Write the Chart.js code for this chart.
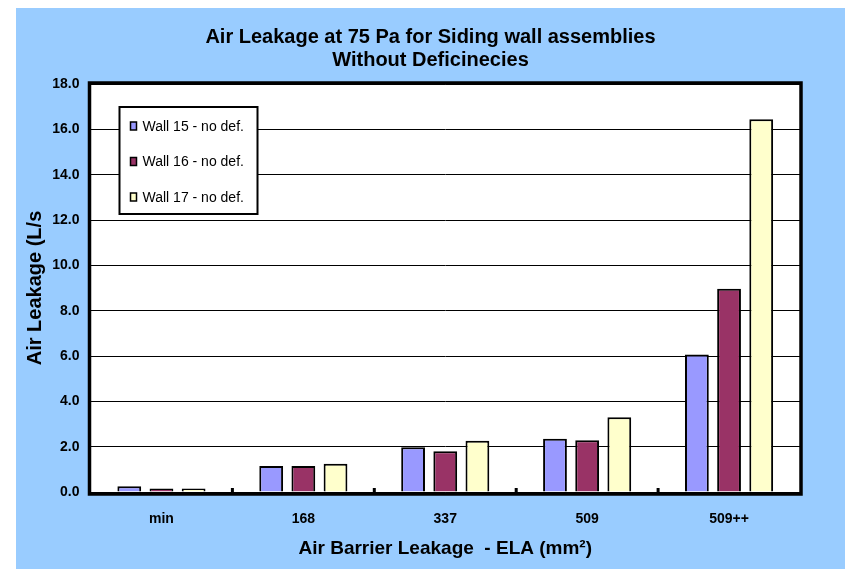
<!DOCTYPE html>
<html>
<head>
<meta charset="utf-8">
<script src="https://cdn.jsdelivr.net/npm/chart.js@4/dist/chart.umd.min.js"></script>
<style>
  html, body { margin: 0; padding: 0; background: #fff; }
  #wrap { position: absolute; left: 16px; top: 8px; width: 829px; height: 561px; background: #99ccff; }
</style>
</head>
<body>
<div id="wrap"><canvas id="leakChart" width="829" height="561"></canvas></div>
<script>
// Air leakage at 75 Pa, siding walls without deficiencies
const categories = ['min', '168', '337', '509', '509++'];
const seriesNames = ['Wall 15 - no def.', 'Wall 16 - no def.', 'Wall 17 - no def.'];
const wall15 = [0.25, 1.15, 1.97, 2.35, 6.07];
const wall16 = [0.15, 1.15, 1.8, 2.28, 8.97];
const wall17 = [0.15, 1.25, 2.26, 3.3, 16.45];
const seriesColors = ['#9999ff', '#993366', '#ffffcc'];
const yTicks = [0, 2, 4, 6, 8, 10, 12, 14, 16, 18];

const FONT = 'Arial, "Liberation Sans", Helvetica, sans-serif';

// white plot area + heavy frame, little marks between groups
const plotFrame = {
  id: 'plotFrame',
  beforeDraw(chart) {
    const {ctx, chartArea: a} = chart;
    ctx.save();
    ctx.fillStyle = '#fff';
    ctx.fillRect(a.left, a.top, a.right - a.left, a.bottom - a.top);
    ctx.restore();
  },
  beforeDatasetsDraw(chart) {
    const {ctx, chartArea: a, scales: {x}} = chart;
    ctx.save();
    ctx.strokeStyle = '#000';
    ctx.lineWidth = 3.5;
    ctx.strokeRect(a.left - 1, a.top - 1, a.right - a.left + 2, a.bottom - a.top + 3);
    ctx.fillStyle = '#000';
    for (let i = 1; i < categories.length; i++) {
      const px = (x.getPixelForValue(i - 1) + x.getPixelForValue(i)) / 2;
      ctx.fillRect(px - 1.5, a.bottom - 4, 3, 4);
    }
    ctx.restore();
  }
};

// boxed legend sitting inside the plot, top left
const boxLegend = {
  id: 'boxLegend',
  afterDatasetsDraw(chart) {
    const {ctx, chartArea: a} = chart;
    const bx = a.left + 29, by = a.top + 23, bw = 138, bh = 107;
    ctx.save();
    ctx.fillStyle = '#fff';
    ctx.fillRect(bx, by, bw, bh);
    ctx.strokeStyle = '#000';
    ctx.lineWidth = 2;
    ctx.strokeRect(bx, by, bw, bh);
    ctx.font = '14px ' + FONT;
    ctx.textBaseline = 'middle';
    chart.data.datasets.forEach((ds, i) => {
      const cy = by + 19 + i * 35.5;
      ctx.fillStyle = ds.backgroundColor;
      ctx.fillRect(bx + 11, cy - 4, 6, 8);
      ctx.lineWidth = 1.5;
      ctx.strokeRect(bx + 11, cy - 4, 6, 8);
      ctx.fillStyle = '#000';
      ctx.fillText(ds.label, bx + 23, cy + 1);
    });
    ctx.restore();
  }
};

const allSeries = [wall15, wall16, wall17];

new Chart(document.getElementById('leakChart').getContext('2d'), {
  type: 'bar',
  data: {
    labels: categories,
    datasets: allSeries.map((vals, i) => ({
      label: seriesNames[i],
      data: vals,
      backgroundColor: seriesColors[i],
      borderColor: '#000',
      borderWidth: 2,
      borderSkipped: 'bottom',
      categoryPercentage: 0.68,
      barPercentage: 0.74
    }))
  },
  options: {
    responsive: false,
    animation: false,
    devicePixelRatio: 1,
    layout: { padding: 0 },
    plugins: {
      legend: { display: false },
      tooltip: { enabled: false },
      title: {
        display: true,
        text: ['Air Leakage at 75 Pa for Siding wall assemblies', 'Without Deficinecies'],
        color: '#000',
        font: { family: FONT, size: 20, weight: 'bold', lineHeight: 1.15 },
        padding: { top: 18, bottom: 12 }
      }
    },
    scales: {
      x: {
        grid: { display: false },
        border: { display: false },
        ticks: { color: '#000', padding: 11, font: { family: FONT, size: 14, weight: 'bold' } },
        title: {
          display: true,
          text: 'Air Barrier Leakage  - ELA (mm²)',
          color: '#000',
          font: { family: FONT, size: 19, weight: 'bold' },
          padding: { top: 0, bottom: 9 }
        },
        afterFit: s => { s.height = 77; }
      },
      y: {
        min: 0,
        max: 18,
        afterBuildTicks: s => { s.ticks = yTicks.map(v => ({ value: v })); },
        grid: { color: '#000', lineWidth: 1, drawTicks: false },
        border: { display: false },
        ticks: {
          color: '#000',
          padding: 11,
          font: { family: FONT, size: 14, weight: 'bold' },
          callback: v => v.toFixed(1)
        },
        title: {
          display: true,
          text: 'Air Leakage (L/s',
          color: '#000',
          font: { family: FONT, size: 20, weight: 'bold' },
          padding: { top: 7, bottom: 0 }
        },
        afterFit: s => { s.width = 74.5; }
      },
      // empty strip on the right so the title centres over the whole frame
      yRight: {
        position: 'right',
        display: true,
        grid: { display: false },
        border: { display: false },
        ticks: { display: false },
        afterFit: s => { s.width = 45; }
      }
    }
  },
  plugins: [plotFrame, boxLegend]
});
</script>
</body>
</html>
